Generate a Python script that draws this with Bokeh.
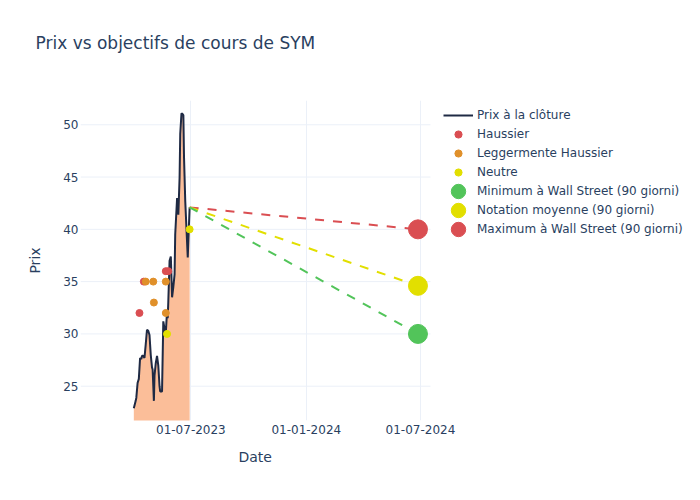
import pandas as pd
from bokeh.plotting import figure
from bokeh.models import (Range1d, FixedTicker, DatetimeTickFormatter, Legend,
                          LegendItem, Title)
from bokeh.embed import file_html
from bokeh.resources import INLINE

# ---------------- data ----------------
close_dates = ["2023-04-01", "2023-04-04", "2023-04-05", "2023-04-07", "2023-04-09",
               "2023-04-11", "2023-04-13", "2023-04-14", "2023-04-16", "2023-04-18",
               "2023-04-20", "2023-04-22", "2023-04-24", "2023-04-26", "2023-04-28",
               "2023-04-30", "2023-05-01", "2023-05-03", "2023-05-04", "2023-05-06",
               "2023-05-08", "2023-05-10", "2023-05-12", "2023-05-13", "2023-05-16",
               "2023-05-18", "2023-05-20", "2023-05-22", "2023-05-24", "2023-05-25",
               "2023-05-26", "2023-05-28", "2023-05-30", "2023-06-01", "2023-06-03",
               "2023-06-05", "2023-06-06", "2023-06-09", "2023-06-10", "2023-06-11",
               "2023-06-13", "2023-06-14", "2023-06-16", "2023-06-18", "2023-06-19",
               "2023-06-20", "2023-06-22", "2023-06-24", "2023-06-26", "2023-06-27",
               "2023-06-29"]
close_prices = [22.9, 23.6, 23.9, 25.3, 25.7,
                27.7, 27.6, 27.9, 27.9, 27.7,
                29.0, 30.4, 30.3, 29.9, 28.0,
                26.8, 26.6, 23.6, 26.0, 27.2,
                27.9, 27.0, 25.0, 24.5, 24.5,
                31.2, 30.5, 30.1, 32.2, 31.5,
                33.1, 37.0, 37.4, 33.5, 34.5,
                35.7, 39.5, 43.0, 42.5, 41.4,
                45.0, 49.1, 51.1, 51.0, 50.9,
                47.0, 42.7, 40.0, 37.3, 39.0,
                42.1]

haussier_dates = ["2023-04-10", "2023-04-17", "2023-05-22", "2023-05-26"]
haussier_values = [32, 35, 36, 36]
legger_dates = ["2023-04-20", "2023-05-02", "2023-05-03", "2023-05-22", "2023-05-22"]
legger_values = [35, 35, 33, 35, 32]
neutre_dates = ["2023-05-24", "2023-06-29"]
neutre_values = [30, 40]

target_date = "2024-06-27"
target_min = 30.0
target_mean = 34.6
target_max = 40.0

x_tick_dates = ["2023-07-01", "2024-01-01", "2024-07-01"]
y_ticks = [25, 30, 35, 40, 45, 50]

# ---------------- style ----------------
FONT = "DejaVu Sans"
TXT = "#2a3f5f"
GRID = "#EBF0F8"
RED = "#DA4E52"
ORANGE = "#E0902A"
YELLOW = "#E2DF00"
GREEN = "#52C45A"
NAVY = "#1f2a44"
FILL = "#FBBE99"

dt = pd.to_datetime
cd = dt(close_dates)

# visible data area: 350 px wide; the frame is extended to the right to host the legend
AREA_W = 350
FRAME_W = 610
x_start = dt("2023-01-06")
x_vis_end = dt("2024-07-17")
x_end = x_start + (x_vis_end - x_start) * (FRAME_W / AREA_W)

p = figure(width=700, height=500, output_backend="svg", toolbar_location=None,
           x_axis_type="datetime",
           x_range=Range1d(x_start, x_end),
           y_range=Range1d(21.72, 52.32),
           min_border_left=80, min_border_right=700 - 80 - FRAME_W,
           min_border_top=100, min_border_bottom=80)
p.background_fill_color = "white"
p.border_fill_color = "white"
p.outline_line_color = None
p.title.text = ""

# spacer (closest to the frame) then the chart title
spacer = Title(text=" ", text_font=FONT, text_font_size="17px", standoff=26,
               text_color="white")
main_title = Title(text="Prix vs objectifs de cours de SYM", align="left",
                   offset=-45, standoff=0, text_font=FONT, text_font_size="17px",
                   text_font_style="normal", text_color=TXT)
p.add_layout(spacer, "above")
p.add_layout(main_title, "above")

# grids
p.xgrid.grid_line_color = GRID
p.xgrid.ticker = FixedTicker(ticks=[dt(d).value / 1e6 for d in x_tick_dates])
p.ygrid.grid_line_color = None
p.segment(x0=[x_start] * len(y_ticks), x1=[x_vis_end] * len(y_ticks),
          y0=y_ticks, y1=y_ticks, line_color=GRID, line_width=1)

# axes
p.xaxis.ticker = FixedTicker(ticks=[dt(d).value / 1e6 for d in x_tick_dates])
p.xaxis.formatter = DatetimeTickFormatter(days="%d-%m-%Y", months="%d-%m-%Y",
                                          years="%d-%m-%Y")
p.yaxis.ticker = FixedTicker(ticks=y_ticks)
for ax in (p.xaxis, p.yaxis):
    ax.axis_line_color = None
    ax.major_tick_line_color = None
    ax.minor_tick_line_color = None
    ax.major_tick_out = 0
    ax.major_tick_in = 0
    ax.minor_tick_out = 0
    ax.major_label_text_font = FONT
    ax.major_label_text_font_size = "12px"
    ax.major_label_text_color = TXT
    ax.axis_label_text_font = FONT
    ax.axis_label_text_font_size = "14px"
    ax.axis_label_text_font_style = "normal"
    ax.axis_label_text_color = TXT
p.yaxis.axis_label = "Prix"
p.xaxis.major_label_standoff = 4
p.yaxis.major_label_standoff = 2
p.yaxis.axis_label_standoff = 17

# x-axis title, centred under the data area
x_title = Title(text="Date", align="left", offset=158, standoff=21,
                text_font=FONT, text_font_size="14px", text_font_style="normal",
                text_color=TXT)
p.add_layout(x_title, "below")

# price area + line
p.varea(x=cd, y1=0, y2=close_prices, fill_color=FILL, fill_alpha=1.0)
r_close = p.line(cd, close_prices, line_color=NAVY, line_width=2)

# rating points
r_h = p.scatter(dt(haussier_dates), haussier_values, size=7, color=RED)
r_l = p.scatter(dt(legger_dates), legger_values, size=7, color=ORANGE)
r_n = p.scatter(dt(neutre_dates), neutre_values, size=7, color=YELLOW)

# target lines
last_d = cd[-1]
last_p = close_prices[-1]
td = dt(target_date)
for val, col in ((target_max, RED), (target_mean, YELLOW), (target_min, GREEN)):
    p.line([last_d, td], [last_p, val], line_color=col, line_width=2,
           line_dash="9 9")

def big_dot(val, col):
    return p.ellipse(x=[td], y=[val], width=19, height=19, width_units="screen",
                     height_units="screen", fill_color=col, line_color=col)

r_min = big_dot(target_min, GREEN)
r_mean = big_dot(target_mean, YELLOW)
r_max = big_dot(target_max, RED)

# legend (inside the extended frame, right of the data area)
lg = Legend(items=[LegendItem(label="Prix à la clôture", renderers=[r_close]),
                   LegendItem(label="Haussier", renderers=[r_h]),
                   LegendItem(label="Leggermente Haussier", renderers=[r_l]),
                   LegendItem(label="Neutre", renderers=[r_n]),
                   LegendItem(label="Minimum à Wall Street (90 giorni)", renderers=[r_min]),
                   LegendItem(label="Notation moyenne (90 giorni)", renderers=[r_mean]),
                   LegendItem(label="Maximum à Wall Street (90 giorni)", renderers=[r_max])],
            location=(363, 181.5), glyph_width=30, glyph_height=18,
            label_height=19, spacing=0, label_standoff=4)
lg.label_text_font = FONT
lg.label_text_font_size = "12px"
lg.label_text_color = TXT
lg.background_fill_alpha = 0
lg.border_line_alpha = 0
lg.padding = 0
lg.margin = 0
p.add_layout(lg, "center")

open("out.html", "w").write(file_html(p, INLINE))
